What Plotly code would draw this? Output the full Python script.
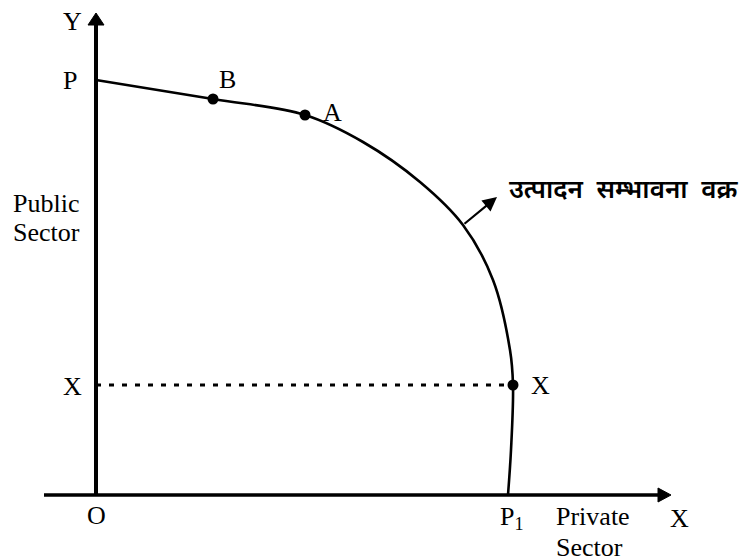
import plotly.graph_objects as go

# Production possibility curve (data units = chart units, origin at O)
ppc_x = [0, 117, 209, 267, 324, 367, 397, 414, 417, 415, 412]
ppc_y = [415, 396, 380, 353, 313, 270, 215, 145, 110, 45, 0]

point_labels = ["B", "A", "X"]
point_x = [117, 209, 417]
point_y = [396, 380, 110]

x_level = 110          # dotted guide level
y_axis_top = 482       # tip of Y arrow
x_axis_right = 575     # tip of X arrow
x_axis_left = -52

FONT = "Liberation Serif"
fig = go.Figure()

# curve
fig.add_trace(go.Scatter(x=ppc_x, y=ppc_y, mode="lines",
                         line=dict(color="black", width=2.6, shape="spline", smoothing=1.0),
                         hoverinfo="skip", showlegend=False))
# dotted guide
fig.add_trace(go.Scatter(x=[0, point_x[2]], y=[x_level, x_level], mode="lines",
                         line=dict(color="black", width=3, dash="5px,8px"),
                         hoverinfo="skip", showlegend=False))
# points
fig.add_trace(go.Scatter(x=point_x, y=point_y, mode="markers",
                         marker=dict(color="black", size=11),
                         hoverinfo="skip", showlegend=False))

shapes = []
# Y axis
shapes.append(dict(type="line", x0=0, y0=0, x1=0, y1=y_axis_top - 12,
                   line=dict(color="black", width=4)))
shapes.append(dict(type="path",
                   path=f"M -8 {y_axis_top-12} L 8 {y_axis_top-12} L 0 {y_axis_top} Z",
                   fillcolor="black", line=dict(color="black", width=1)))
# X axis
shapes.append(dict(type="line", x0=x_axis_left, y0=0, x1=x_axis_right - 13, y1=0,
                   line=dict(color="black", width=3.5)))
shapes.append(dict(type="path",
                   path=f"M {x_axis_right-13} -7 L {x_axis_right-13} 7 L {x_axis_right} 0 Z",
                   fillcolor="black", line=dict(color="black", width=1)))

ann = []
def lab(x, y, t, size=26, xanchor="center"):
    ann.append(dict(x=x, y=y, text=t, showarrow=False, xanchor=xanchor, yanchor="middle",
                    font=dict(family=FONT, size=size, color="black")))

lab(-24, 474, "Y")
lab(-26, 415, "P")
lab(131, 416, "B")
lab(236, 383, "A")
lab(-50, 292, "Public")
lab(-50, 263, "Sector")
lab(-24, 109, "X")
lab(0, -20, "O")
lab(444, 110, "X")
lab(416, -23, "P<sub>1</sub>")
lab(497, -21, "Private")
lab(493, -52, "Sector")
lab(583, -23, "X")

ann.append(dict(x=401, y=298, ax=367, ay=270, axref="x", ayref="y", xref="x", yref="y",
                showarrow=True, arrowhead=2, arrowsize=1.3, arrowwidth=2.2, arrowcolor="black",
                text=""))
ann.append(dict(x=411, y=307, text="उत्पादन \u00a0सम्भावना \u00a0वक्र", showarrow=False,
                xanchor="left", yanchor="middle",
                font=dict(family="Noto Sans", size=26, weight=600, color="black")))

fig.update_layout(
    width=756, height=560, margin=dict(l=0, r=0, t=0, b=0),
    paper_bgcolor="white", plot_bgcolor="white",
    xaxis=dict(range=[-96, 660], visible=False, fixedrange=True),
    yaxis=dict(range=[-65, 495], visible=False, fixedrange=True),
    shapes=shapes, annotations=ann, showlegend=False,
)
fig.write_html("out.html", config={"displayModeBar": False},
               post_script="document.body.style.margin='0px';")
